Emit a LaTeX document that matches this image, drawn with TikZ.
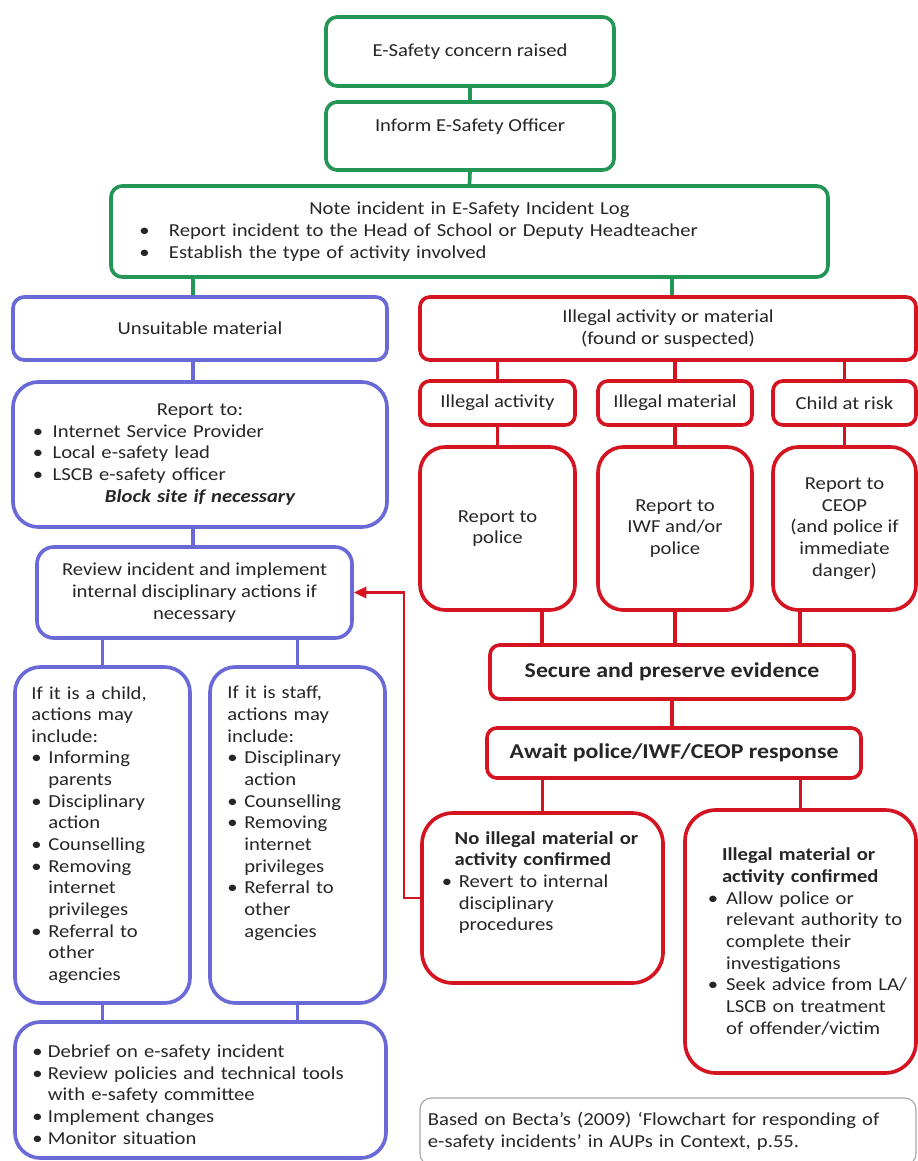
\documentclass[tikz,border=0pt]{standalone}
\usepackage{fontspec}
\setmainfont{Carlito}[FakeStretch=1.13]
\usetikzlibrary{arrows.meta}
\definecolor{sfgreen}{RGB}{35,150,85}
\definecolor{sfblue}{RGB}{105,105,215}
\definecolor{sfred}{RGB}{212,20,32}
\newcommand{\pxl}{0.025cm}
\newcommand{\itm}[2][12pt]{\par\hangindent=#1\hangafter=1\noindent\makebox[#1][l]{\textbullet}#2\par}

\tikzset{
  box/.style={draw, line width=2.6pt, fill=white, inner sep=0pt,
    font=\fontsize{13}{15.4}\selectfont, text=black!85},
  gbox/.style={box, draw=sfgreen, rounded corners=8pt},
  ubox/.style={box, draw=sfblue, rounded corners=8pt},
  rbox/.style={box, draw=sfred, rounded corners=7pt},
  gline/.style={draw=sfgreen, line width=2.6pt},
  uline/.style={draw=sfblue, line width=2.6pt},
  rline/.style={draw=sfred, line width=2.6pt}
}

\begin{document}
\begin{tikzpicture}[x=0.025cm, y=-0.025cm]
    \fill[white] (0,0) rectangle (918,1161);
    \useasboundingbox (0,0) rectangle (918,1161);

    % green part
    \node[gbox, minimum width=288*\pxl, minimum height=69*\pxl] (concern) at (470,51.5) {E-Safety concern raised};
    \node[gbox, minimum width=288*\pxl, minimum height=68*\pxl, text depth=16pt] (inform) at (470,136) {Inform E-Safety Officer};
    \node[gbox, minimum width=717*\pxl, minimum height=91*\pxl, text width=16.5cm] (log) at (469.5,231.5)
      {{\centering Note incident in E-Safety Incident Log\par}%
       \itm[21pt]{Report incident to the Head of School or Deputy Headteacher}%
       \itm[21pt]{Establish the type of activity involved}};

    % unsuitable material
    \node[ubox, minimum width=374*\pxl, minimum height=63*\pxl] (unsuit) at (200,328.5) {Unsuitable material};
    \node[ubox, rounded corners=18pt, minimum width=374*\pxl, minimum height=145*\pxl, text width=8.35cm] (reportto) at (200,454.5)
      {{\centering Report to:\par}%
       \itm[14pt]{Internet Service Provider}%
       \itm[14pt]{Local e-safety lead}%
       \itm[14pt]{LSCB e-safety officer}%
       {\centering\bfseries\itshape Block site if necessary\par}};
    \node[ubox, rounded corners=12pt, minimum width=315*\pxl, minimum height=91*\pxl, align=center] (review) at (194.5,592.5)
      {Review incident and implement\\internal disciplinary actions if\\necessary};
    \node[ubox, rounded corners=18pt, minimum width=175*\pxl, minimum height=336*\pxl, text width=3.55cm] (child) at (102.5,835)
      {If it is a child,\newline actions may\newline include:%
       \itm{Informing\newline parents}%
       \itm{Disciplinary\newline action}%
       \itm{Counselling}%
       \itm{Removing\newline internet\newline privileges}%
       \itm{Referral to\newline other\newline agencies}};
    \node[ubox, rounded corners=18pt, minimum width=175*\pxl, minimum height=336*\pxl, text width=3.5cm] (staff) at (297.5,835)
      {If it is staff,\newline actions may\newline include:%
       \itm{Disciplinary\newline action}%
       \itm{Counselling}%
       \itm{Removing\newline internet\newline privileges}%
       \itm{Referral to\newline other\newline agencies}\vspace*{2\baselineskip}};
    \node[ubox, rounded corners=18pt, minimum width=371*\pxl, minimum height=136*\pxl, text width=8.4cm] (debrief) at (200.5,1090)
      {\itm[11pt]{Debrief on e-safety incident}%
       \itm[11pt]{Review policies and technical tools\newline with e-safety committee}%
       \itm[11pt]{Implement changes}%
       \itm[11pt]{Monitor situation}};

    % illegal activity or material
    \node[rbox, minimum width=496*\pxl, minimum height=63*\pxl, align=center] (illegal) at (668,328.5)
      {Illegal activity or material\\(found or suspected)};
    \node[rbox, minimum width=155*\pxl, minimum height=44*\pxl] (act) at (497.5,403) {Illegal activity};
    \node[rbox, minimum width=154*\pxl, minimum height=44*\pxl] (mat) at (675,403) {Illegal material};
    \node[rbox, minimum width=143*\pxl, minimum height=44*\pxl] (risk) at (844.5,403) {Child at risk};
    \node[rbox, rounded corners=18pt, minimum width=155*\pxl, minimum height=163*\pxl, align=center] (police) at (497.5,528.5)
      {Report to\\police};
    \node[rbox, rounded corners=18pt, minimum width=154*\pxl, minimum height=163*\pxl, align=center] (iwf) at (675,528.5)
      {Report to\\IWF and/or\\police};
    \node[rbox, rounded corners=18pt, minimum width=143*\pxl, minimum height=163*\pxl, align=center] (ceop) at (844.5,528.5)
      {Report to\\CEOP\\(and police if\\immediate\\danger)};
    \node[rbox, minimum width=364*\pxl, minimum height=54*\pxl, font=\fontsize{15}{18}\selectfont\bfseries] (secure) at (672,672)
      {Secure and preserve evidence};
    \node[rbox, minimum width=374*\pxl, minimum height=50*\pxl, font=\fontsize{15}{18}\selectfont\bfseries] (await) at (674,753)
      {Await police/IWF/CEOP response};
    \node[rbox, rounded corners=22pt, minimum width=241*\pxl, minimum height=170*\pxl, text width=5.025cm] (noill) at (542.5,898)
      {\hspace*{9pt}\textbf{No illegal material or}\newline\hspace*{9pt}\textbf{activity confirmed}%
       \itm{Revert to internal\newline disciplinary\newline procedures}\vspace*{22pt}};
    \node[rbox, rounded corners=22pt, minimum width=231*\pxl, minimum height=263*\pxl, text width=5.4cm] (conf) at (800.5,941.5)
      {\leftskip=11pt
       \hspace*{10pt}\textbf{Illegal material or}\newline\hspace*{10pt}\textbf{activity confirmed}%
       \itm[13pt]{Allow police or\newline relevant authority to\newline complete their\newline investigations}%
       \itm[13pt]{Seek advice from LA/\newline LSCB on treatment\newline of offender/victim}};

    % source
    \node[draw=gray!70, line width=0.8pt, rounded corners=8pt, inner sep=0pt, minimum width=496*\pxl, minimum height=67*\pxl,
      text width=12cm, font=\fontsize{13}{15.4}\selectfont, text=black!85] (src) at (668,1131.5)
      {Based on Becta’s (2009) ‘Flowchart for responding of\newline e-safety incidents’ in AUPs in Context, p.55.};

    % connectors
    \coordinate (gl) at (193,0);
    \coordinate (gr) at (672,0);
    \coordinate (s1) at (542,0);
    \coordinate (s3) at (800,0);
    \coordinate (bk) at (404,0);

    \draw[gline] (concern.south) -- (inform.north);
    \draw[gline] (inform.south) -- (log.north);
    \draw[gline] (log.south -| gl) -- (unsuit.north -| gl);
    \draw[gline] (log.south -| gr) -- (illegal.north -| gr);

    \draw[uline] (unsuit.south -| gl) -- (reportto.north -| gl);
    \draw[uline] (reportto.south -| gl) -- (review.north -| gl);
    \draw[uline] (child.north) -- (child.north |- review.south);
    \draw[uline] (staff.north) -- (staff.north |- review.south);
    \draw[uline] (child.south) -- (child.south |- debrief.north);
    \draw[uline] (staff.south) -- (staff.south |- debrief.north);

    \draw[rline] (act.north) -- (act.north |- illegal.south);
    \draw[rline] (mat.north) -- (mat.north |- illegal.south);
    \draw[rline] (risk.north) -- (risk.north |- illegal.south);
    \draw[rline] (act.south) -- (police.north);
    \draw[rline] (mat.south) -- (iwf.north);
    \draw[rline] (risk.south) -- (ceop.north);
    \draw[rline] (police.south -| s1) -- (secure.north -| s1);
    \draw[rline] (iwf.south) -- (iwf.south |- secure.north);
    \draw[rline] (ceop.south -| s3) -- (secure.north -| s3);
    \draw[rline] (secure.south) -- (secure.south |- await.north);
    \draw[rline] (noill.north) -- (noill.north |- await.south);
    \draw[rline] (conf.north) -- (conf.north |- await.south);

    \draw[rline, line width=2pt, -{Triangle[length=9pt,width=8pt]}] (noill.west) -- (noill.west -| bk) |- (review.east);

  \end{tikzpicture}
\end{document}
